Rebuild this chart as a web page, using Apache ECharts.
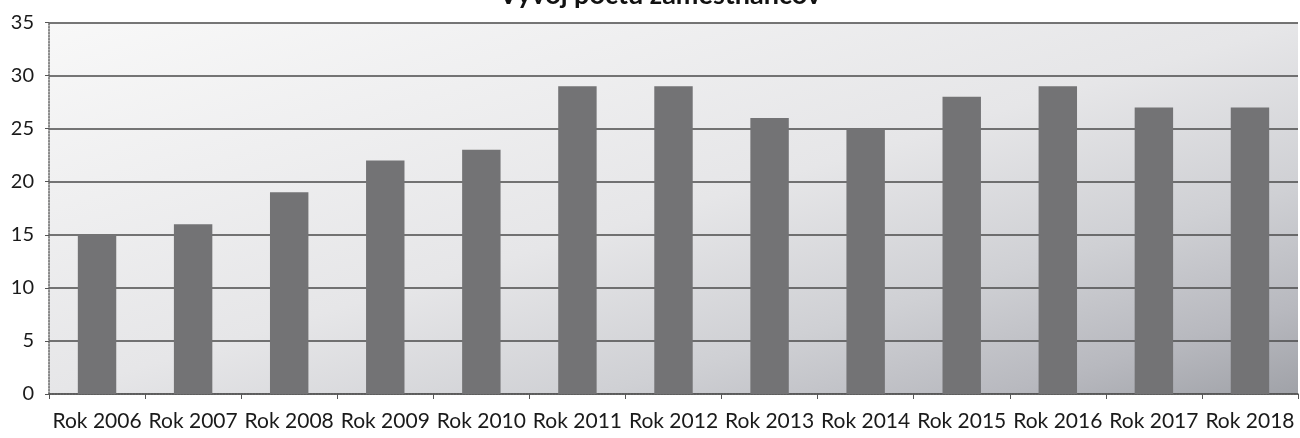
<!DOCTYPE html>
<html>
<head>
<meta charset="utf-8">
<script src="https://cdn.jsdelivr.net/npm/echarts@6/dist/echarts.min.js"></script>
<style>html,body{margin:0;padding:0;background:#fff}#c{width:1300px;height:438px}</style>
</head>
<body>
<div id="c"></div>
<script>
const titleText = 'Vývoj počtu zamestnancov';
const categories = ['Rok 2006','Rok 2007','Rok 2008','Rok 2009','Rok 2010','Rok 2011','Rok 2012','Rok 2013','Rok 2014','Rok 2015','Rok 2016','Rok 2017','Rok 2018'];
const values = [15, 16, 19, 22, 23, 29, 29, 26, 25, 28, 29, 27, 27];
const yMin = 0, yMax = 35, yStep = 5;

const GL = 49, GT = 22.5, GW = 1249, GH = 371.5;
const diag = Math.sqrt(GW * GW + GH * GH);
const len = 2 * GW * GH / diag;
const dx = GH / diag, dy = GW / diag;

const chart = echarts.init(document.getElementById('c'));
chart.setOption({
  backgroundColor: '#ffffff',
  title: {
    text: titleText,
    left: 655, top: -23,
    textAlign: 'center',
    textStyle: { fontFamily: 'Lato', fontWeight: 'bold', fontSize: 27, color: '#111' }
  },
  grid: {
    left: GL, right: 1300 - GL - GW, top: GT, bottom: 438 - GT - GH,
    show: true, borderWidth: 0,
    backgroundColor: {
      type: 'linear', global: true,
      x: GL, y: GT, x2: GL + dx * len, y2: GT + dy * len,
      colorStops: [
        { offset: 0, color: '#f8f8f8' },
        { offset: 0.5, color: '#e6e6e8' },
        { offset: 0.72, color: '#cfd0d4' },
        { offset: 0.88, color: '#b8b9bf' },
        { offset: 1, color: '#a0a2a8' }
      ]
    }
  },
  xAxis: {
    type: 'category',
    data: categories,
    axisLine: { show: true, lineStyle: { color: '#555', width: 1.5, type: 'dotted' } },
    axisTick: { show: true, length: 5, lineStyle: { color: '#555' } },
    axisLabel: { interval: 0, margin: 17, color: '#1a1a1a', fontFamily: 'Lato', fontSize: 21 }
  },
  yAxis: {
    type: 'value',
    min: yMin, max: yMax, interval: yStep,
    axisLine: { show: true, lineStyle: { color: '#666', width: 1.5, type: 'dotted' } },
    axisTick: { show: true, length: 4, lineStyle: { color: '#555' } },
    axisLabel: { margin: 15, color: '#1a1a1a', fontFamily: 'Lato', fontSize: 20 },
    splitLine: { show: true, lineStyle: { color: '#4a4a4a', width: 1.5 } }
  },
  series: [{
    type: 'bar',
    data: values,
    barCategoryGap: '60%',
    itemStyle: { color: '#737375' }
  }]
});
</script>
</body>
</html>
